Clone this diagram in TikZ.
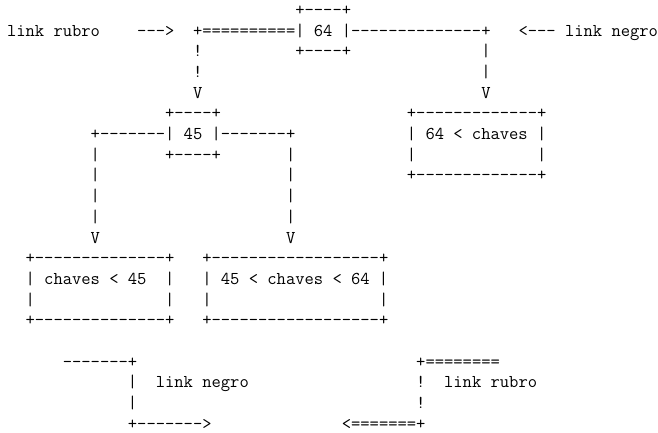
\documentclass[tikz,border=0pt]{standalone}
\newlength\ascw
\newcommand\seg[4]{\node[asc] (#1) at ({7+9.3*#3},{15.3+20.7*#2}) {#4};}
\begin{document}
\settowidth\ascw{\ttfamily\fontsize{18pt}{20pt}\selectfont x}%
\pgfmathsetmacro\ascfs{18*9.3/\ascw}%
\begin{tikzpicture}[x=1pt,y=-1pt]
\tikzset{asc/.style={anchor=base west, inner sep=0pt, outer sep=0pt,
  font=\ttfamily\fontsize{\ascfs pt}{20pt}\selectfont}}
\fill[white] (0,0) rectangle (658,432);
\useasboundingbox (0,0) rectangle (658,432);
% line 0
\seg{a0}{0}{31}{+----+}
% line 1
\seg{a1}{1}{0}{link rubro}
\seg{b1}{1}{14}{--->}
\seg{c1}{1}{20}{+==========| 64 |--------------+}
\seg{d1}{1}{55}{<--- link negro}
% line 2-4
\seg{a2}{2}{20}{!}
\seg{b2}{2}{31}{+----+}
\seg{c2}{2}{51}{|}
\seg{a3}{3}{20}{!}
\seg{b3}{3}{51}{|}
\seg{a4}{4}{20}{V}
\seg{b4}{4}{51}{V}
% line 5
\seg{a5}{5}{17}{+----+}
\seg{b5}{5}{43}{+-------------+}
% line 6
\seg{a6}{6}{9}{+-------| 45 |-------+}
\seg{b6}{6}{43}{| 64 < chaves |}
% line 7
\seg{a7}{7}{9}{|}
\seg{b7}{7}{17}{+----+}
\seg{c7}{7}{30}{|}
\seg{d7}{7}{43}{|}
\seg{e7}{7}{57}{|}
% line 8
\seg{a8}{8}{9}{|}
\seg{b8}{8}{30}{|}
\seg{c8}{8}{43}{+-------------+}
% line 9-10
\seg{a9}{9}{9}{|}
\seg{b9}{9}{30}{|}
\seg{a10}{10}{9}{|}
\seg{b10}{10}{30}{|}
% line 11
\seg{a11}{11}{9}{V}
\seg{b11}{11}{30}{V}
% line 12-15
\seg{a12}{12}{2}{+--------------+}
\seg{b12}{12}{21}{+------------------+}
\seg{a13}{13}{2}{| chaves < 45}
\seg{b13}{13}{17}{|}
\seg{c13}{13}{21}{| 45 < chaves < 64 |}
\seg{a14}{14}{2}{|}
\seg{b14}{14}{17}{|}
\seg{c14}{14}{21}{|}
\seg{d14}{14}{40}{|}
\seg{a15}{15}{2}{+--------------+}
\seg{b15}{15}{21}{+------------------+}
% legend
\seg{a17}{17}{6}{-------+}
\seg{b17}{17}{44}{+========}
\seg{a18}{18}{13}{|}
\seg{b18}{18}{16}{link negro}
\seg{c18}{18}{44}{!}
\seg{d18}{18}{47}{link rubro}
\seg{a19}{19}{13}{|}
\seg{b19}{19}{44}{!}
\seg{a20}{20}{13}{+------->}
\seg{b20}{20}{36}{<=======+}
\end{tikzpicture}
\end{document}
